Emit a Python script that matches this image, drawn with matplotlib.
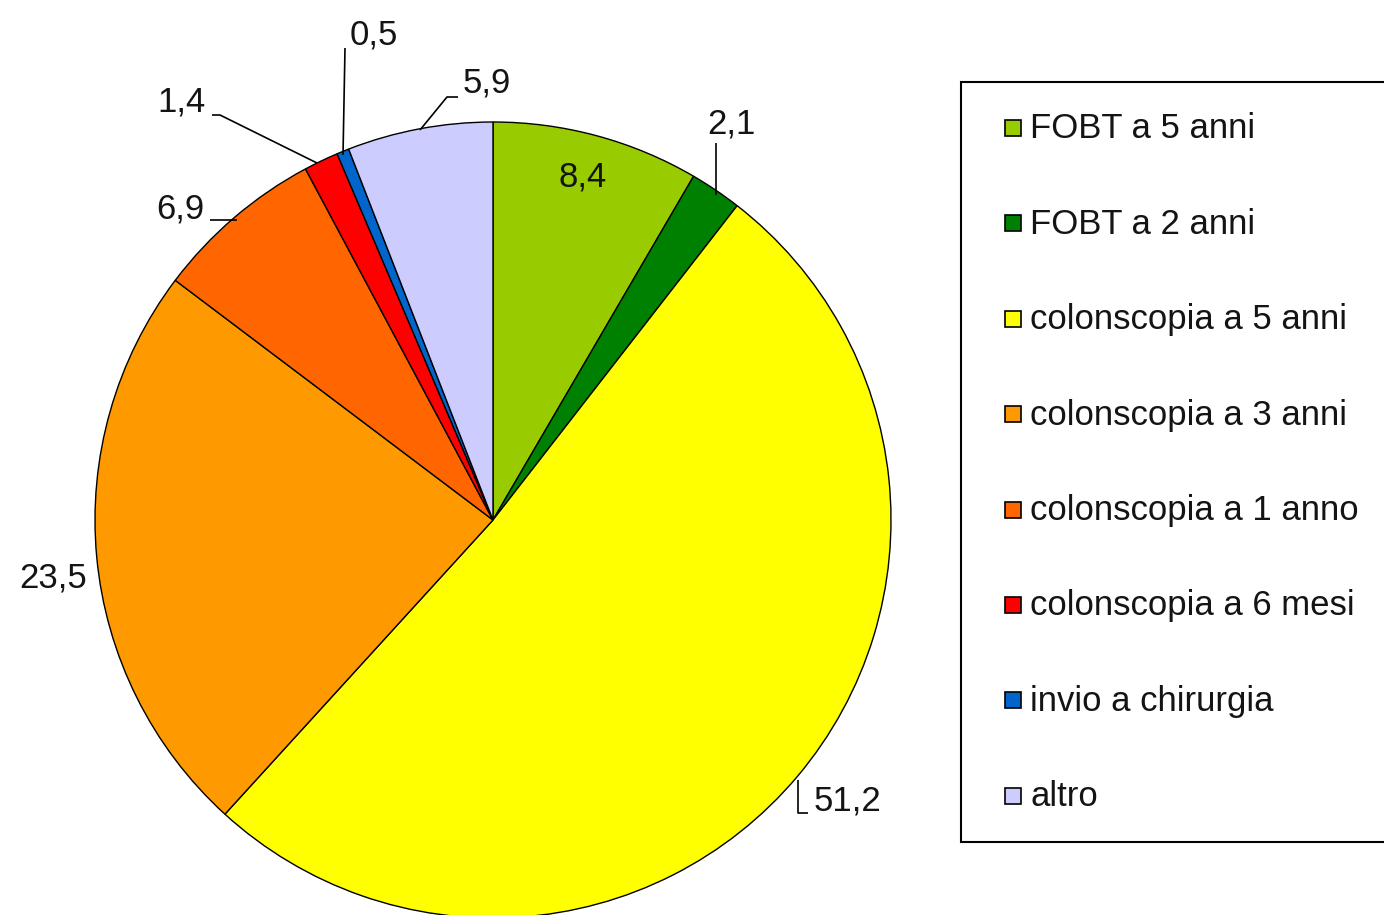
import matplotlib
matplotlib.use("Agg")
import matplotlib.pyplot as plt
from matplotlib.patches import Rectangle

categories = ["FOBT a 5 anni", "FOBT a 2 anni", "colonscopia a 5 anni",
              "colonscopia a 3 anni", "colonscopia a 1 anno",
              "colonscopia a 6 mesi", "invio a chirurgia", "altro"]
values = [8.4, 2.1, 51.2, 23.5, 6.9, 1.4, 0.5, 5.9]
colors = ["#99cc00", "#008000", "#ffff00", "#ff9900", "#ff6600",
          "#ff0000", "#0066cc", "#ccccff"]

W, H = 1384, 915
plt.rcParams['font.family'] = ['Liberation Sans', 'DejaVu Sans']
fig = plt.figure(figsize=(W / 100, H / 100), dpi=100)
ax = fig.add_axes([0, 0, 1, 1])

def Y(y):
    return H - y

cx, cy, r = 493, 520, 398
wedges, _ = ax.pie(values, colors=colors, startangle=90, counterclock=False,
                   center=(cx, Y(cy)), radius=r,
                   wedgeprops=dict(edgecolor='black', linewidth=1.0))
for w in wedges:
    w.set_clip_on(False)

ax.set_xlim(0, W)
ax.set_ylim(0, H)
ax.set_aspect('equal')
ax.axis('off')

def fmt(v):
    return f"{v:.1f}".replace('.', ',')

txtc = '#141414'
fs = 25
label_pos = [(583, 177), (731, 124), (847, 801), (53, 578),
             (180, 209), (181, 102), (374, 35), (487, 83)]
leaders = [None,
           [(716, 143), (716, 195)],
           [(798, 780), (798, 813), (808, 813)],
           None,
           [(210, 220), (237, 220)],
           [(212, 115), (220, 115), (317, 163)],
           [(345, 48), (343, 155)],
           [(458, 97), (447, 97), (420, 130)]]
for v, (lx, ly), ld in zip(values, label_pos, leaders):
    ax.text(lx, Y(ly), fmt(v), ha='center', va='center', fontsize=fs, color=txtc)
    if ld:
        xs = [p[0] for p in ld]
        ys = [Y(p[1]) for p in ld]
        ax.plot(xs, ys, color='black', lw=1.2, solid_capstyle='butt')

ax.add_patch(Rectangle((961, Y(842)), 450, 842 - 82, facecolor='white',
                       edgecolor='black', lw=1.5, clip_on=False))
ly0, dy = 128, 95.4
for i, (lab, c) in enumerate(zip(categories, colors)):
    yy = Y(ly0 + i * dy)
    ax.add_patch(Rectangle((1005, yy - 8), 16, 16, facecolor=c,
                           edgecolor='black', lw=1.2))
    ax.text(1030, yy - 1, lab, ha='left', va='center', fontsize=fs, color=txtc)

fig.savefig("out.png", dpi=100)
